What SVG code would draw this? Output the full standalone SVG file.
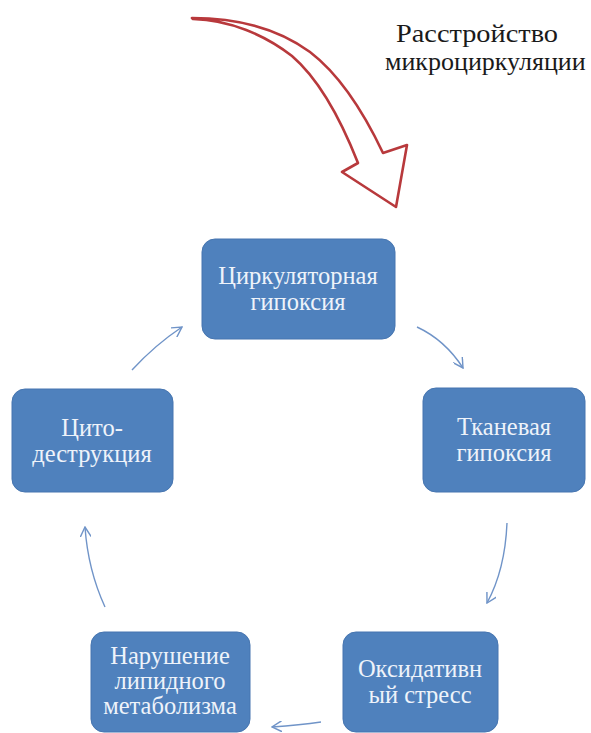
<svg xmlns="http://www.w3.org/2000/svg" width="591" height="733" viewBox="0 0 591 733">
  <style>
    .box { fill: #4F81BD; stroke: #4675B0; stroke-width: 1; }
    .lbl { font-family: 'Liberation Serif', 'DejaVu Serif', 'Times New Roman', serif; font-size: 24.5px; fill: #EEF3FA; text-anchor: middle; }
    .title { font-family: 'Liberation Serif', 'DejaVu Serif', 'Times New Roman', serif; font-size: 26px; fill: #1a1a1a; }
    .conn { fill: none; stroke: #7094C8; stroke-width: 1.4; marker-end: url(#head); }
  </style>
  <defs>
    <marker id="head" viewBox="0 0 10 10" refX="9" refY="5" markerWidth="11" markerHeight="11" markerUnits="userSpaceOnUse" orient="auto">
      <path d="M0,0 L9,5 L0,10" fill="none" stroke="#7094C8" stroke-width="1.3"/>
    </marker>
  </defs>

  <g id="title">
    <text class="title" x="396" y="42" textLength="162" lengthAdjust="spacingAndGlyphs">Расстройство</text>
    <text class="title" x="385" y="70">микроциркуляции</text>
  </g>

  <g id="big-arrow">
    <path d="M192,18 C240,18 280,30 310,52 C340,75 365,115 383,153 L407,145 L396,207 L342,172 L358,163 C343,125 320,80 292,56 C265,35 230,20 193,19 Z" fill="#FFFFFF" stroke="#B8393C" stroke-width="2.6" stroke-linejoin="round"/>
  </g>

  <g id="connectors">
    <path class="conn" d="M417,327 Q445,340 463,368"/>
    <path class="conn" d="M507,523 Q505,570 487,603"/>
    <path class="conn" d="M321,722 Q300,725 272,727"/>
    <path class="conn" d="M105,607 Q88,570 85,527"/>
    <path class="conn" d="M132,370 Q155,345 182,327"/>
  </g>

  <g id="node-circ">
    <rect class="box" x="202" y="239" width="193" height="100" rx="13"/>
    <text class="lbl" x="298" y="284">Циркуляторная</text>
    <text class="lbl" x="298" y="310">гипоксия</text>
  </g>
  <g id="node-tissue">
    <rect class="box" x="423" y="388" width="162" height="104" rx="13"/>
    <text class="lbl" x="504" y="435">Тканевая</text>
    <text class="lbl" x="504" y="461">гипоксия</text>
  </g>
  <g id="node-oxid">
    <rect class="box" x="343" y="632" width="155" height="100" rx="13"/>
    <text class="lbl" x="420" y="677">Оксидативн</text>
    <text class="lbl" x="420" y="703">ый стресс</text>
  </g>
  <g id="node-lipid">
    <rect class="box" x="91" y="632" width="159" height="100" rx="13"/>
    <text class="lbl" x="170" y="664">Нарушение</text>
    <text class="lbl" x="170" y="689">липидного</text>
    <text class="lbl" x="170" y="714">метаболизма</text>
  </g>
  <g id="node-cyto">
    <rect class="box" x="12" y="389" width="161" height="103" rx="13"/>
    <text class="lbl" x="92" y="436">Цито-</text>
    <text class="lbl" x="92" y="462">деструкция</text>
  </g>
</svg>
